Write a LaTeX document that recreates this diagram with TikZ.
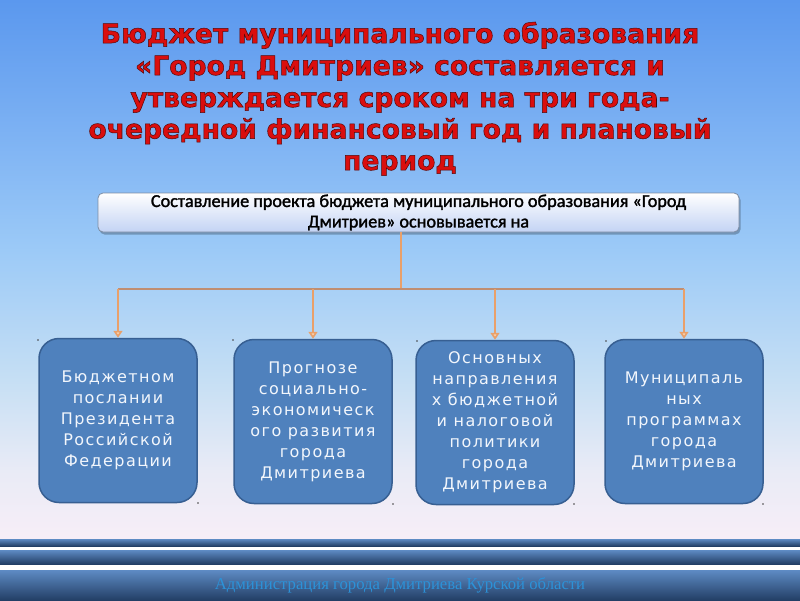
\documentclass[tikz,border=0pt]{standalone}
\usepackage{fontspec}
\usetikzlibrary{arrows.meta}
\newfontfamily\titlefont{DejaVu Sans}
\newfontfamily\boxfont[LetterSpace=9]{DejaVu Sans}
\newfontfamily\headfont{Carlito}
\newfontfamily\footfont{Liberation Serif}
\definecolor{titlered}{HTML}{DA0E0E}
\definecolor{boxblue}{HTML}{4F81BD}
\definecolor{boxborder}{HTML}{375F92}
\definecolor{boxtext}{HTML}{F2F6FC}
\definecolor{linkor}{HTML}{E9A06A}
\definecolor{barcol}{HTML}{C08E72}
\definecolor{arrowfill}{HTML}{F6D2B0}
\definecolor{foottext}{HTML}{2C92D8}
\definecolor{bgA}{HTML}{5B98EE}
\definecolor{bgB}{HTML}{74ABF2}
\definecolor{bgC}{HTML}{9CCAF7}
\definecolor{bgD}{HTML}{C6DFF4}
\definecolor{bgE}{HTML}{E9EBF6}
\definecolor{bgF}{HTML}{F7EEF7}
\definecolor{headtop}{HTML}{FFFFFF}
\definecolor{headbot}{HTML}{C3D3F4}
\definecolor{headborder}{HTML}{7D8DA3}
\definecolor{bandlight}{HTML}{5E8BC4}
\definecolor{banddark}{HTML}{233F66}
% red text with a thin dark edge (one text, no duplicate)
\newcommand{\edgetext}[1]{\special{pdf:literal direct 2 Tr 0.5 w 0.33 0.03 0.03 RG}#1\special{pdf:literal direct 0 Tr 0.4 w}}
% slightly heavier black text
\newcommand{\heavytext}[1]{\special{pdf:literal direct 2 Tr 0.3 w 0 0 0 RG}#1\special{pdf:literal direct 0 Tr 0.4 w}}
\begin{document}
\begin{tikzpicture}[x=1pt,y=-1pt,
  titleline/.style={anchor=base, text=titlered, font=\titlefont\bfseries\fontsize{26.6}{31}\selectfont, inner sep=0pt},
  headbox/.style={draw=headborder, line width=0.8pt, rounded corners=5pt, top color=headtop, bottom color=headbot,
    minimum width=641pt, minimum height=39pt, inner sep=0pt, align=center,
    font=\headfont\fontsize{18.2}{20.5}\selectfont, text=black},
  bluebox/.style={draw=boxborder, line width=1.5pt, rounded corners=20pt, fill=boxblue,
    minimum width=158pt, minimum height=164pt, inner sep=0pt, align=center,
    font=\boxfont\fontsize{16}{21}\selectfont, text=boxtext},
  barline/.style={draw=barcol, line width=2.8pt},
  dropline/.style={draw=linkor, line width=1.6pt, -{Triangle[length=7pt,width=9pt,fill=arrowfill]}},
  stemline/.style={draw=linkor, line width=1.6pt},
  dotmark/.style={fill=black!75},
  foot/.style={font=\footfont\fontsize{16.7}{19}\selectfont, text=foottext, inner sep=0pt}
]
\useasboundingbox (0,0) rectangle (800,600);
% background
\shade[top color=bgA, bottom color=bgB] (0,0) rectangle (800,100.5);
\shade[top color=bgB, bottom color=bgC] (0,100) rectangle (800,250.5);
\shade[top color=bgC, bottom color=bgD] (0,250) rectangle (800,380.5);
\shade[top color=bgD, bottom color=bgE] (0,380) rectangle (800,470.5);
\shade[top color=bgE, bottom color=bgF] (0,470) rectangle (800,539);
\fill[white] (0,539) rectangle (800,600);
% bands
\shade[top color=bandlight, bottom color=banddark] (0,539) rectangle (800,546);
\shade[top color=bandlight, bottom color=banddark] (0,550) rectangle (800,564);
\shade[top color=bandlight, bottom color=banddark] (0,570) rectangle (800,600);
% title
\node[titleline] (t1) at (400,43) {\edgetext{Бюджет муниципального образования}};
\node[titleline] (t2) at (400,75) {\edgetext{«Город Дмитриев» составляется и}};
\node[titleline] (t3) at (400,107) {\edgetext{утверждается сроком на три года-}};
\node[titleline] (t4) at (400,138.5) {\edgetext{очередной финансовый год и плановый}};
\node[titleline] (t5) at (400,170) {\edgetext{период}};
% header box
\fill[black, opacity=0.25, rounded corners=5pt] (99.5,195) rectangle (740.5,234.5);
\node[headbox] (top) at (418.5,212.5) {\heavytext{Составление проекта бюджета муниципального образования «Город}\\\heavytext{Дмитриев» основывается на}};
% boxes
\node[bluebox] (b1) at (118,420.5) {Бюджетном\\послании\\Президента\\Российской\\Федерации};
\node[bluebox] (b2) at (313,421.5) {Прогнозе\\социально-\\экономическ\\ого развития\\города\\Дмитриева};
\node[bluebox] (b3) at (495,422.5) {Основных\\направления\\х бюджетной\\и налоговой\\политики\\города\\Дмитриева};
\node[bluebox] (b4) at (684,421.5) {Муниципаль\\ных\\программах\\города\\Дмитриева};
% connectors
\coordinate (hub) at (401,289);
\draw[stemline] (top.south -| hub) -- (hub);
\draw[barline] (b1.north |- hub) -- (b4.north |- hub);
\draw[dropline] (b1.north |- hub) -- (b1.north);
\draw[dropline] (b2.north |- hub) -- (b2.north);
\draw[dropline] (b3.north |- hub) -- (b3.north);
\draw[dropline] (b4.north |- hub) -- (b4.north);
% small dots
\foreach \px/\py in {38/340,198/503,233/340,393/504,417/341,574/504,606/341,763/504}{
  \fill[dotmark] (\px,\py) circle (0.9);
}
% footer
\node[foot] (ft) at (400,585) {Администрация города Дмитриева Курской области};
\end{tikzpicture}
\end{document}
